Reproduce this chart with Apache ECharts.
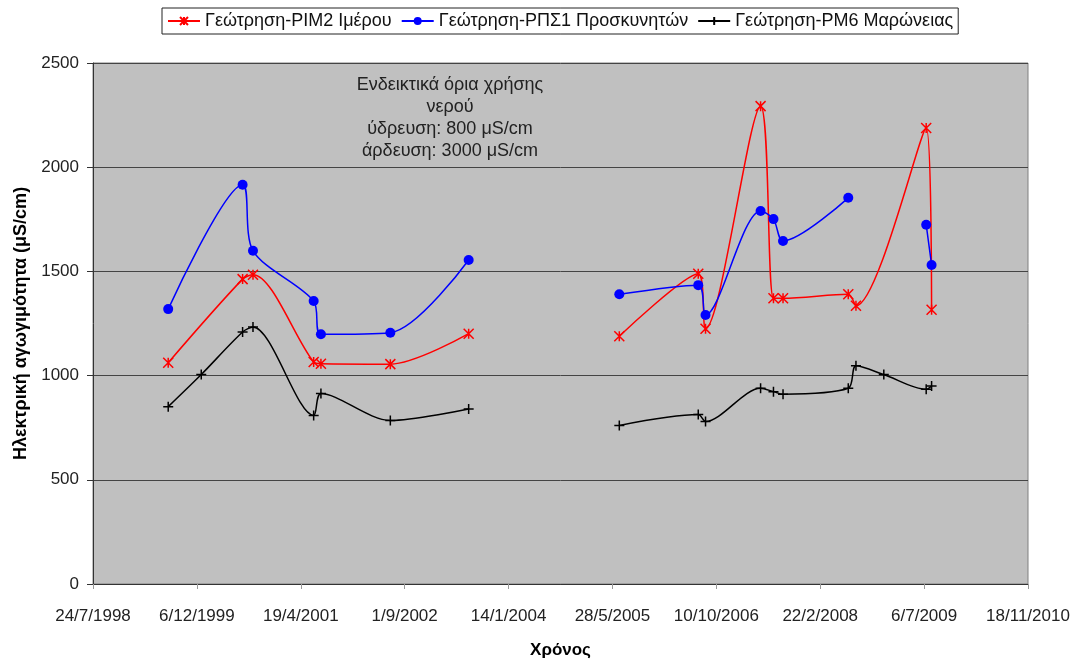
<!DOCTYPE html>
<html>
<head>
<meta charset="utf-8">
<script src="https://cdn.jsdelivr.net/npm/echarts@6/dist/echarts.min.js"></script>
<style>
  html, body { margin: 0; padding: 0; background: #fff; }
  #chart { width: 1077px; height: 664px; }
</style>
</head>
<body>
<div id="chart"></div>
<script>
// axis start and tick labels (date axis, one tick every 500 days)
const axisStart = '1998-07-24';
const tickStepDays = 500;
const yTicks = [0, 500, 1000, 1500, 2000, 2500];

const seriesNames = [
  'Γεώτρηση-PIM2 Ιμέρου',
  'Γεώτρηση-ΡΠΣ1 Προσκυνητών',
  'Γεώτρηση-PM6 Μαρώνειας'
];

// null = break in the line
const redDates = ['1999-07-21', '2000-07-13', '2000-09-01', '2001-06-20', '2001-07-25', '2002-06-24', '2003-07-06',
  '2004-06-01', '2005-06-30', '2006-07-15', '2006-08-19', '2007-05-11', '2007-07-12', '2007-08-27',
  '2008-07-06', '2008-08-12', '2009-07-16', '2009-08-11'];
const redValues = [1062, 1463, 1484, 1065, 1057, 1055, 1201,
  null, 1189, 1489, 1225, 2293, 1371, 1371,
  1390, 1335, 2188, 1316];

const blueDates = ['1999-07-21', '2000-07-13', '2000-09-01', '2001-06-20', '2001-07-25', '2002-06-24', '2003-07-06',
  '2004-06-01', '2005-06-30', '2006-07-15', '2006-08-19', '2007-05-11', '2007-07-12', '2007-08-27',
  '2008-07-06', '2009-01-01', '2009-07-16', '2009-08-11'];
const blueValues = [1319, 1916, 1599, 1358, 1198, 1206, 1555,
  null, 1390, 1434, 1291, 1790, 1751, 1646,
  1853, null, 1724, 1531];

const blackDates = ['1999-07-21', '1999-12-27', '2000-07-13', '2000-09-01', '2001-06-20', '2001-07-25', '2002-06-24',
  '2003-07-06', '2004-06-01', '2005-06-30', '2006-07-15', '2006-08-19', '2007-05-11', '2007-07-12',
  '2007-08-27', '2008-07-06', '2008-08-12', '2008-12-24', '2009-07-16', '2009-08-11'];
const blackValues = [851, 1005, 1209, 1233, 809, 914, 785,
  840, null, 761, 813, 780, 939, 923,
  911, 939, 1047, 1005, 934, 950];

const noteLines = ['Ενδεικτικά όρια χρήσης', 'νερού', 'ύδρευση: 800 μS/cm', 'άρδευση: 3000 μS/cm'];

const DAY = 86400000;
const base = Date.parse(axisStart);
const toDays = d => (Date.parse(d) - base) / DAY;
const pairs = (dates, vals) => dates.map((d, i) => [toDays(d), vals[i]]);
const fmtDate = v => {
  const d = new Date(base + v * DAY);
  return d.getUTCDate() + '/' + (d.getUTCMonth() + 1) + '/' + d.getUTCFullYear();
};

const font = 'Liberation Sans, Arial, sans-serif';
const myChart = echarts.init(document.getElementById('chart'));

const lineSeries = (name, color, data, symbol, size, filled) => ({
  name: name,
  type: 'line',
  data: data,
  smooth: 0.3,
  connectNulls: false,
  symbol: symbol,
  symbolSize: size,
  lineStyle: { color: color, width: 1.5 },
  itemStyle: filled
    ? { color: color }
    : { color: 'rgba(0,0,0,0)', borderColor: color, borderWidth: 1.5 },
  emphasis: { disabled: true }
});

const option = {
  animation: false,
  textStyle: { fontFamily: font },
  legend: {
    top: 8,
    left: 162,
    data: seriesNames,
    itemWidth: 32,
    itemHeight: 10,
    itemGap: 9,
    padding: [4, 5],
    borderColor: '#222',
    borderWidth: 1,
    textStyle: { fontSize: 18, color: '#111', fontFamily: font }
  },
  grid: {
    left: 93,
    right: 49,
    top: 63,
    bottom: 71,
    show: true,
    backgroundColor: '#c0c0c0',
    borderColor: '#808080',
    borderWidth: 1
  },
  xAxis: {
    type: 'value',
    min: 0,
    max: tickStepDays * 9,
    interval: tickStepDays,
    name: 'Χρόνος',
    nameLocation: 'middle',
    nameGap: 58,
    nameTextStyle: { fontSize: 17, fontWeight: 'bold', color: '#000' },
    axisLine: { show: true, lineStyle: { color: '#333', width: 1 } },
    axisTick: { show: true, length: 5, lineStyle: { color: '#999' } },
    axisLabel: { formatter: fmtDate, fontSize: 17, color: '#222', margin: 24 },
    splitLine: { show: false }
  },
  yAxis: {
    type: 'value',
    min: yTicks[0],
    max: yTicks[yTicks.length - 1],
    interval: yTicks[1] - yTicks[0],
    name: 'Ηλεκτρική αγωγιμότητα (μS/cm)',
    nameLocation: 'middle',
    nameGap: 63,
    nameTextStyle: { fontSize: 18, fontWeight: 'bold', color: '#000' },
    axisLine: { show: true, lineStyle: { color: '#333', width: 1 } },
    axisTick: { show: true, length: 6, lineStyle: { color: '#333' } },
    axisLabel: { formatter: v => String(v), fontSize: 17, color: '#222', margin: 14 },
    splitLine: { show: true, lineStyle: { color: '#444', width: 1 } }
  },
  graphic: [{
    type: 'text',
    x: 450,
    y: 74,
    style: {
      text: noteLines.join('\n'),
      textAlign: 'center',
      font: '18px ' + font,
      lineHeight: 22,
      fill: '#222'
    },
    z: 10
  }],
  series: [
    lineSeries(seriesNames[0], '#ff0000', pairs(redDates, redValues),
      'path://M0,0L10,10M10,0L0,10M5,0L5,10', 10, false),
    lineSeries(seriesNames[1], '#0000ff', pairs(blueDates, blueValues),
      'circle', 10, true),
    lineSeries(seriesNames[2], '#000000', pairs(blackDates, blackValues),
      'path://M5,0L5,10M0,5L10,5', 10, false)
  ]
};
myChart.setOption(option);
</script>
</body>
</html>
